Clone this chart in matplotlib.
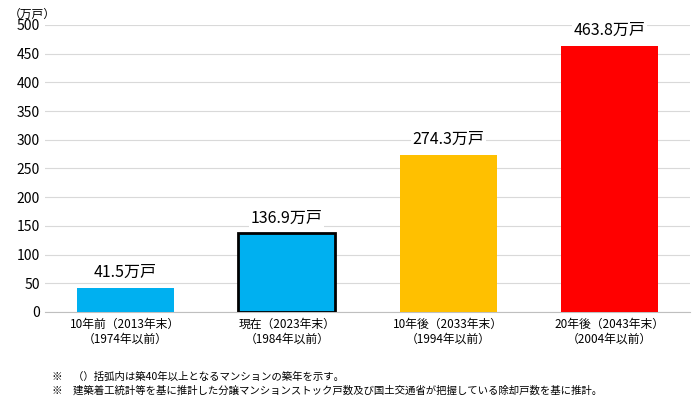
import matplotlib
matplotlib.use("Agg")
import matplotlib.pyplot as plt

plt.rcParams["font.family"] = "Noto Sans CJK JP"

categories = ["10年前（2013年末）\n（1974年以前）", "現在（2023年末）\n（1984年以前）",
              "10年後（2033年末）\n（1994年以前）", "20年後（2043年末）\n（2004年以前）"]
values = [41.5, 136.9, 274.3, 463.8]
labels = ["41.5万戸", "136.9万戸", "274.3万戸", "463.8万戸"]
colors = ["#00B0F0", "#00B0F0", "#FFC000", "#FF0000"]
edges = ["none", "black", "none", "none"]
yticks = list(range(0, 501, 50))

fig = plt.figure(figsize=(7, 4.03), dpi=100)
ax = fig.add_axes([0.064, 0.226, 0.922, 0.712])
x = range(len(values))
for i, (v, c, e) in enumerate(zip(values, colors, edges)):
    ax.bar(i, v, width=0.6, color=c, edgecolor=e, linewidth=2 if e != "none" else 0, zorder=3)
    ax.text(i, v + 12, labels[i], ha="center", va="bottom", fontsize=11.5,
            bbox=dict(facecolor="white", edgecolor="none", pad=1), zorder=4)
ax.set_xlim(-0.5, 3.5)
ax.set_ylim(0, 500)
ax.set_yticks(yticks)
ax.tick_params(axis="y", labelsize=10, length=0)
ax.set_xticks(list(x))
ax.set_xticklabels(categories, fontsize=8.5)
ax.tick_params(axis="x", length=0, pad=4)
ax.yaxis.grid(True, color="#D9D9D9", linewidth=0.8, zorder=0)
for s in ["top", "right", "left"]:
    ax.spines[s].set_visible(False)
ax.spines["bottom"].set_color("#BFBFBF")
fig.text(0.012, 0.965, "（万戸）", fontsize=8.5, va="center")
fig.text(0.075, 0.058, "※　（）括弧内は築40年以上となるマンションの築年を示す。", fontsize=7.5)
fig.text(0.075, 0.022, "※　建築着工統計等を基に推計した分譲マンションストック戸数及び国土交通省が把握している除却戸数を基に推計。", fontsize=7.5)
fig.savefig("out.png")
